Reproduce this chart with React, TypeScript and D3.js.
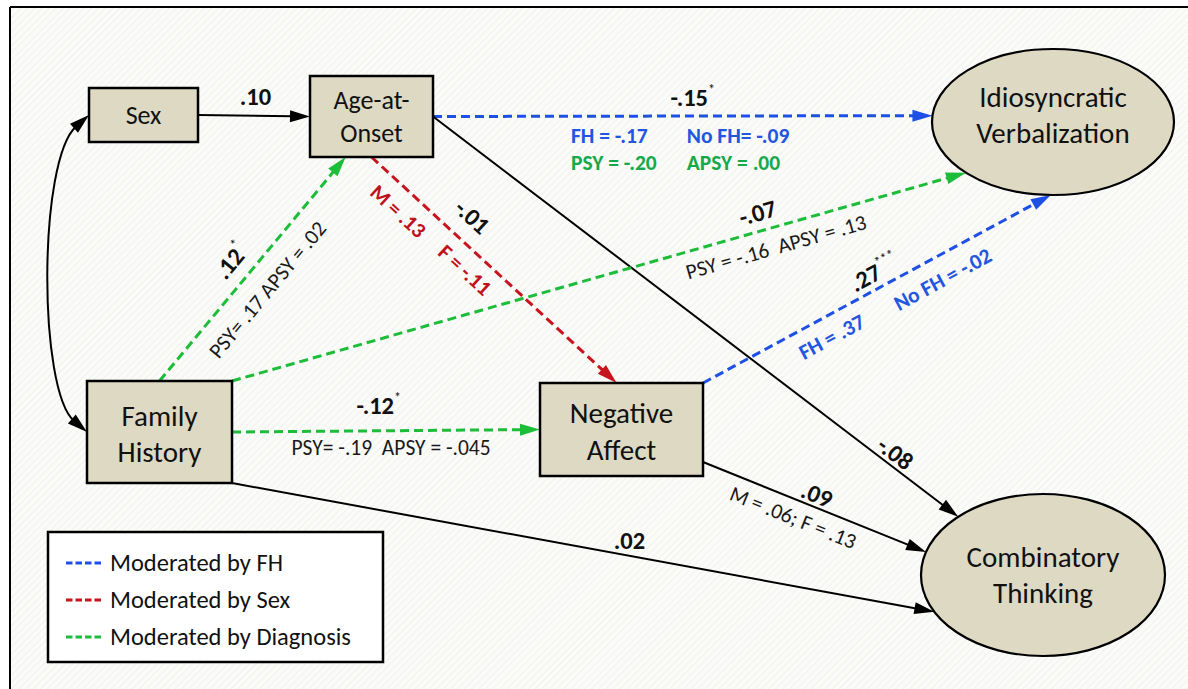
import React from "react";
import * as d3 from "d3";

// ---------- data ----------
const nodeIds = ["sex", "age", "fam", "neg", "idio", "comb"];
const nodeLines = [
  ["Sex"],
  ["Age-at-", "Onset"],
  ["Family", "History"],
  ["Negative", "Affect"],
  ["Idiosyncratic", "Verbalization"],
  ["Combinatory", "Thinking"],
];

const pathFrom = ["sex", "age", "age", "age", "fam", "fam", "neg", "fam", "neg", "fam"];
const pathTo = ["age", "idio", "comb", "neg", "age", "idio", "idio", "neg", "comb", "comb"];
const pathCoef = [".10", "-.15", "-.08", "-.01", ".12", "-.07", ".27", "-.12", ".09", ".02"];
const pathStars = ["", "*", "", "", "*", "", "***", "*", "", ""];
const pathModerator = ["none", "FH", "none", "Sex", "Diagnosis", "Diagnosis", "FH", "Diagnosis", "none", "none"];

// group estimates: [path index, colour group, text]
const groupEstimates: [number, string, string][] = [
  [1, "FH", "FH = -.17"],
  [1, "FH", "No FH= -.09"],
  [1, "Diagnosis", "PSY = -.20"],
  [1, "Diagnosis", "APSY = .00"],
  [3, "Sex", "M = .13"],
  [3, "Sex", "F = -.11"],
  [4, "plain", "PSY= .17 APSY = .02"],
  [5, "plain", "PSY = -.16  APSY = .13"],
  [6, "FH", "FH = .37"],
  [6, "FH", "No FH = -.02"],
  [7, "plain", "PSY= -.19  APSY = -.045"],
  [8, "plain", "M = .06; F = .13"],
];

const legendKeys = ["FH", "Sex", "Diagnosis"];
const legendLabels = ["Moderated by FH", "Moderated by Sex", "Moderated by Diagnosis"];

// ---------- layout / style ----------
const W = 1188;
const H = 689;
const FONT = "Carlito, Lato, 'Open Sans', sans-serif";

const lineColor: Record<string, string> = { FH: "#1e50e6", Sex: "#c8141e", Diagnosis: "#1dbd3a", none: "#000" };
const textColor: Record<string, string> = { FH: "#2356e0", Sex: "#c0101a", Diagnosis: "#14a94a", plain: "#1a1a1a" };

type Box = { x: number; y: number; w: number; h: number; fs: number; dy: number };
type Ell = { cx: number; cy: number; rx: number; ry: number; fs: number; dy: number };
const boxes: Record<string, Box> = {
  sex: { x: 89, y: 88, w: 109, h: 54, fs: 26, dy: 0 },
  age: { x: 310, y: 76, w: 123, h: 81, fs: 26, dy: 0 },
  fam: { x: 87, y: 381, w: 145, h: 102, fs: 29, dy: 2 },
  neg: { x: 540, y: 383, w: 163, h: 93, fs: 29, dy: 2 },
};
const ellipses: Record<string, Ell> = {
  idio: { cx: 1053, cy: 122, rx: 121, ry: 73, fs: 29, dy: -7 },
  comb: { cx: 1043, cy: 575, rx: 122, ry: 81, fs: 29, dy: 0 },
};

// start / end anchors: [u, v] on a box, angle in degrees on an ellipse
const pathAnchors: [any, any][] = [
  [[1, 0.5], [0, 0.5]],
  [[1, 0.5], 185],
  [[1, 0.5], 226],
  [[0.5, 1], [0.47, 0]],
  [[0.5, 0], [0.29, 1]],
  [[1, 0], 136],
  [[1, 0], 91],
  [[1, 0.5], [0, 0.5]],
  [[1, 0.85], 196.5],
  [[1, 1], 153],
];
// [t along path, offset to the left of the path, rotate with path]
const coefSpots: [number, number, boolean][] = [
  [0.51, 19, false],
  [0.52, 18, false],
  [0.866, 12, true],
  [0.344, 24, true],
  [0.475, 21, true],
  [0.723, 18, true],
  [0.514, 15, true],
  [0.477, 25, false],
  [0.49, 12, true],
  [0.562, 15, false],
];
// [t, offset, anchor, rotate, bold, size]
const estimateSpots: [number, number, string, boolean, boolean, number][] = [
  [0.276, -20, "start", false, true, 21.5],
  [0.508, -20, "start", false, true, 21.5],
  [0.276, -47, "start", false, true, 21.5],
  [0.508, -47, "start", false, true, 21.5],
  [0.169, -22, "middle", true, true, 21.5],
  [0.436, -20, "middle", true, true, 21.5],
  [0.478, -25, "middle", true, false, 21.5],
  [0.734, -20, "middle", true, false, 21.5],
  [0.342, -21, "middle", true, true, 21.5],
  [0.658, -23, "middle", true, true, 21.5],
  [0.516, -17, "middle", false, false, 21.5],
  [0.434, -18, "middle", true, false, 21.5],
];

function anchorPoint(id: string, a: any): [number, number] {
  if (boxes[id]) {
    const b = boxes[id];
    return [b.x + a[0] * b.w, b.y + a[1] * b.h];
  }
  const e = ellipses[id];
  const r = (a * Math.PI) / 180;
  return [e.cx + e.rx * Math.cos(r), e.cy + e.ry * Math.sin(r)];
}

const ARROW_LEN = 20;
const ARROW_HALF = 6;

function arrowHead(tip: [number, number], dir: [number, number], color: string, key: string) {
  const [dx, dy] = dir;
  const bx = tip[0] - ARROW_LEN * dx;
  const by = tip[1] - ARROW_LEN * dy;
  const pts = [
    [tip[0], tip[1]],
    [bx - ARROW_HALF * dy, by + ARROW_HALF * dx],
    [bx + ARROW_HALF * dy, by - ARROW_HALF * dx],
  ];
  return <polygon key={key} points={pts.map((p) => p.join(",")).join(" ")} fill={color} />;
}

function Label(props: {
  x: number; y: number; angle: number; text: string; stars?: string; color: string;
  bold: boolean; size: number; anchor?: string;
}) {
  const { x, y, angle, text, stars, color, bold, size, anchor } = props;
  return (
    <text
      transform={`translate(${x},${y}) rotate(${angle})`}
      textAnchor={anchor || "middle"}
      dominantBaseline="central"
      fontSize={size}
      fontWeight={bold ? 700 : 400}
      fill={color}
      style={{ whiteSpace: "pre" }}
    >
      {text}
      {stars ? (
        <tspan fontSize={14} dy={-9} fontWeight={400}>
          {stars}
        </tspan>
      ) : null}
    </text>
  );
}

export default function App() {
  const line = d3.line<[number, number]>();

  const edges = pathFrom.map((from, i) => {
    const to = pathTo[i];
    const p0 = anchorPoint(from, pathAnchors[i][0]);
    const p1 = anchorPoint(to, pathAnchors[i][1]);
    const len = Math.hypot(p1[0] - p0[0], p1[1] - p0[1]);
    const dir: [number, number] = [(p1[0] - p0[0]) / len, (p1[1] - p0[1]) / len];
    const angle = (Math.atan2(dir[1], dir[0]) * 180) / Math.PI;
    return { p0, p1, len, dir, angle, mod: pathModerator[i] };
  });

  const spot = (i: number, t: number, off: number): [number, number] => {
    const e = edges[i];
    const nx = e.dir[1];
    const ny = -e.dir[0];
    return [e.p0[0] + t * (e.p1[0] - e.p0[0]) + off * nx, e.p0[1] + t * (e.p1[1] - e.p0[1]) + off * ny];
  };

  // curved two-headed covariance arrow between Sex and Family History
  const cStart = anchorPoint("sex", [0, 0.5]);
  const cEnd = anchorPoint("fam", [0, 0.5]);
  const c1: [number, number] = [38, 160];
  const c2: [number, number] = [38, 390];
  const unit = (a: [number, number], b: [number, number]): [number, number] => {
    const l = Math.hypot(b[0] - a[0], b[1] - a[1]);
    return [(b[0] - a[0]) / l, (b[1] - a[1]) / l];
  };
  const dStart = unit(c1, cStart);
  const dEnd = unit(c2, cEnd);
  const cp = d3.path();
  const s0: [number, number] = [cStart[0] - (ARROW_LEN - 3) * dStart[0], cStart[1] - (ARROW_LEN - 3) * dStart[1]];
  const s1: [number, number] = [cEnd[0] - (ARROW_LEN - 3) * dEnd[0], cEnd[1] - (ARROW_LEN - 3) * dEnd[1]];
  cp.moveTo(s0[0], s0[1]);
  cp.bezierCurveTo(c1[0], c1[1], c2[0], c2[1], s1[0], s1[1]);

  return (
    <div style={{ position: "absolute", left: 0, top: 0 }}>
      <svg width={W} height={H} style={{ display: "block", fontFamily: FONT }}>
        <defs>
          <pattern id="hatch" width={5} height={5} patternUnits="userSpaceOnUse" patternTransform="rotate(45)">
            <rect width={5} height={5} fill="#fbfbf9" />
            <line x1={0} y1={0} x2={0} y2={5} stroke="#efefeb" strokeWidth={1.6} />
          </pattern>
        </defs>
        <rect x={0} y={0} width={W} height={H} fill="#fff" />
        <rect x={10} y={7} width={W - 10} height={H - 7} fill="url(#hatch)" />
        <line x1={10} y1={7} x2={W} y2={7} stroke="#000" strokeWidth={2} />
        <line x1={10} y1={7} x2={10} y2={H} stroke="#000" strokeWidth={2} />

        {/* covariance */}
        <path d={cp.toString()} fill="none" stroke="#000" strokeWidth={2} />
        {arrowHead(cStart, dStart, "#000", "cs")}
        {arrowHead(cEnd, dEnd, "#000", "ce")}

        {/* paths */}
        {edges.map((e, i) => {
          const color = lineColor[e.mod];
          const dashed = e.mod !== "none";
          const end: [number, number] = [e.p1[0] - (ARROW_LEN - 3) * e.dir[0], e.p1[1] - (ARROW_LEN - 3) * e.dir[1]];
          return (
            <g key={"e" + i}>
              <path
                d={line([e.p0, end]) || ""}
                stroke={color}
                strokeWidth={dashed ? 3 : 2}
                strokeDasharray={dashed ? "9 5" : undefined}
                fill="none"
              />
              {arrowHead(e.p1, e.dir, color, "a" + i)}
            </g>
          );
        })}

        {/* nodes */}
        {nodeIds.map((id, i) => {
          const lines = nodeLines[i];
          if (boxes[id]) {
            const b = boxes[id];
            const cx = b.x + b.w / 2;
            const cy = b.y + b.h / 2 + b.dy;
            const lh = b.fs * 1.25;
            return (
              <g key={id}>
                <rect x={b.x} y={b.y} width={b.w} height={b.h} fill="#ddd9c3" stroke="#000" strokeWidth={2.5} />
                {lines.map((t, j) => (
                  <text key={j} x={cx} y={cy + (j - (lines.length - 1) / 2) * lh} textAnchor="middle"
                    dominantBaseline="central" fontSize={b.fs} fill="#111">
                    {t}
                  </text>
                ))}
              </g>
            );
          }
          const e = ellipses[id];
          const lh = e.fs * 1.23;
          return (
            <g key={id}>
              <ellipse cx={e.cx} cy={e.cy} rx={e.rx} ry={e.ry} fill="#ddd9c3" stroke="#000" strokeWidth={2.2} />
              {lines.map((t, j) => (
                <text key={j} x={e.cx} y={e.cy + e.dy + (j - (lines.length - 1) / 2) * lh} textAnchor="middle"
                  dominantBaseline="central" fontSize={e.fs} fill="#111">
                  {t}
                </text>
              ))}
            </g>
          );
        })}

        {/* coefficients */}
        {pathCoef.map((c, i) => {
          const [t, off, rot] = coefSpots[i];
          const [x, y] = spot(i, t, off);
          return (
            <Label key={"c" + i} x={x} y={y} angle={rot ? edges[i].angle : 0} text={c} stars={pathStars[i]}
              color="#111" bold size={24.5} />
          );
        })}

        {/* group estimates */}
        {groupEstimates.map(([pi, grp, txt], k) => {
          const [t, off, anchor, rot, bold, size] = estimateSpots[k];
          const [x, y] = spot(pi, t, off);
          return (
            <Label key={"g" + k} x={x} y={y} angle={rot ? edges[pi].angle : 0} text={txt}
              color={textColor[grp]} bold={bold} size={size} anchor={anchor} />
          );
        })}

        {/* legend */}
        <rect x={48} y={532} width={335} height={130} fill="#fff" stroke="#000" strokeWidth={2.5} />
        {legendKeys.map((k, i) => {
          const y = 563 + i * 37;
          return (
            <g key={k}>
              <line x1={66} x2={103} y1={y} y2={y} stroke={lineColor[k]} strokeWidth={3} strokeDasharray="6.5 3" />
              <text x={110} y={y} dominantBaseline="central" fontSize={24.5} fill="#111">
                {legendLabels[i]}
              </text>
            </g>
          );
        })}
      </svg>
    </div>
  );
}
